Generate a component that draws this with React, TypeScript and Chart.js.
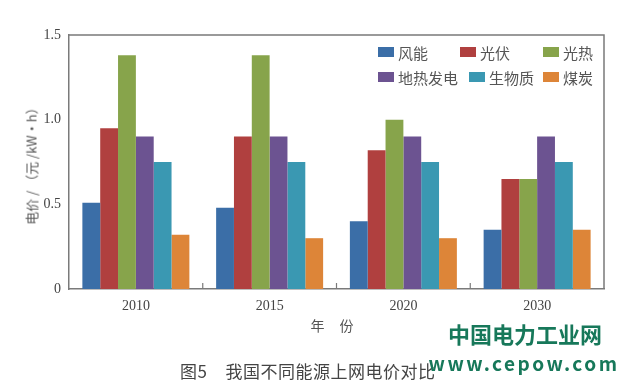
import React, { useEffect, useRef } from "react";
import { Chart, registerables } from "chart.js";
Chart.register(...registerables);

const categories = ["2010", "2015", "2020", "2030"];
const seriesNames = ["风能", "光伏", "光热", "地热发电", "生物质", "煤炭"];
const wind = [0.51, 0.48, 0.40, 0.35];
const pv = [0.95, 0.90, 0.82, 0.65];
const thermal = [1.38, 1.38, 1.00, 0.65];
const geothermal = [0.90, 0.90, 0.90, 0.90];
const biomass = [0.75, 0.75, 0.75, 0.75];
const coal = [0.32, 0.30, 0.30, 0.35];
const colors = ["#3b6ea7", "#b0403f", "#87a44b", "#6c5391", "#3a98b2", "#dd8538"];
const yTicks = [0, 0.5, 1.0, 1.5];

const CJK = '"Noto Sans CJK SC", "Noto Sans", sans-serif';
const SERIF = '"Liberation Serif", "DejaVu Serif", serif';

const framePlugin = {
  id: "frame",
  afterDraw(chart: any) {
    const { ctx, chartArea } = chart;
    const { left, right, top, bottom } = chartArea;
    ctx.save();
    ctx.strokeStyle = "#7a7a7a";
    ctx.lineWidth = 1.5;
    ctx.beginPath();
    ctx.moveTo(left, top);
    ctx.lineTo(right, top);
    ctx.lineTo(right, bottom);
    ctx.stroke();
    // inward category-boundary ticks
    const xs = chart.scales.x;
    ctx.lineWidth = 1.2;
    for (let i = 1; i < categories.length; i++) {
      const x = (xs.getPixelForValue(i - 1) + xs.getPixelForValue(i)) / 2;
      ctx.beginPath();
      ctx.moveTo(x, bottom);
      ctx.lineTo(x, bottom - 6);
      ctx.stroke();
    }
    // legend
    const rows = [
      { y: top + 17, items: [0, 1, 2], xs: [378, 460, 543] },
      { y: top + 42, items: [3, 4, 5], xs: [378, 469, 543] },
    ];
    ctx.font = `15px ${CJK}`;
    ctx.textBaseline = "middle";
    ctx.textAlign = "left";
    rows.forEach((r) => {
      r.items.forEach((idx, k) => {
        const x = r.xs[k];
        ctx.fillStyle = colors[idx];
        ctx.fillRect(x, r.y - 5, 16, 10);
        ctx.fillStyle = "#555";
        ctx.fillText(seriesNames[idx], x + 20, r.y + 1);
      });
    });
    ctx.restore();
  },
};

export default function App() {
  const ref = useRef<HTMLCanvasElement>(null);
  useEffect(() => {
    const datasets = [wind, pv, thermal, geothermal, biomass, coal].map((d, i) => ({
      label: seriesNames[i],
      data: d,
      backgroundColor: colors[i],
      borderWidth: 0,
      categoryPercentage: 0.8,
      barPercentage: 1.0,
    }));
    const chart = new Chart(ref.current!, {
      type: "bar",
      data: { labels: categories, datasets },
      options: {
        animation: false,
        responsive: false,
        maintainAspectRatio: false,
        layout: { padding: { left: 0, right: 21, top: 35, bottom: 0 } },
        plugins: { legend: { display: false }, tooltip: { enabled: false } },
        scales: {
          x: {
            grid: { display: false, drawTicks: false },
            border: { display: true, color: "#7a7a7a", width: 1.5 },
            ticks: { color: "#444", font: { family: SERIF, size: 14 }, padding: 9 },
            afterFit: (s: any) => { s.height = 101; },
          },
          y: {
            min: 0,
            max: 1.5,
            afterBuildTicks: (s: any) => { s.ticks = yTicks.map((v) => ({ value: v })); },
            grid: { display: false, drawTicks: false },
            border: { display: true, color: "#7a7a7a", width: 1.5 },
            ticks: {
              color: "#444",
              font: { family: SERIF, size: 14 },
              padding: 8,
              callback: (v: any) => (v === 0 ? "0" : Number(v).toFixed(1)),
            },
            afterFit: (s: any) => { s.width = 69; },
          },
        },
      },
      plugins: [framePlugin],
    });
    return () => chart.destroy();
  }, []);

  return (
    <div style={{ position: "fixed", left: 0, top: 0, width: 625, height: 390, background: "#fff", overflow: "hidden" }}>
      <canvas ref={ref} width={625} height={390} style={{ position: "absolute", left: 0, top: 0 }} />
      <div style={{ position: "absolute", left: 31, top: 163, transform: "translate(-50%,-50%) rotate(-90deg)", whiteSpace: "nowrap", font: `13px ${CJK}`, color: "#555" }}>
        电价 / （元 /kW·h）
      </div>
      <div style={{ position: "absolute", left: 335, top: 325, transform: "translate(-50%,-50%)", whiteSpace: "nowrap", font: `14px ${CJK}`, color: "#555", letterSpacing: 6 }}>
        年 份
      </div>
      <div style={{ position: "absolute", left: 180, top: 370, transform: "translateY(-50%)", whiteSpace: "nowrap", font: `17px ${CJK}`, color: "#444", letterSpacing: 0.5 }}>
        图5<span style={{ display: "inline-block", width: 18 }}></span>我国不同能源上网电价对比
      </div>
      <div style={{ position: "absolute", left: 525, top: 333, transform: "translate(-50%,-50%)", whiteSpace: "nowrap", font: `bold 22px ${CJK}`, color: "#17785a" }}>
        中国电力工业网
      </div>
      <div style={{ position: "absolute", left: 524, top: 362, transform: "translate(-50%,-50%)", whiteSpace: "nowrap", font: `bold 19px ${CJK}`, color: "#17785a", letterSpacing: 2.5 }}>
        www.cepow.com
      </div>
    </div>
  );
}
